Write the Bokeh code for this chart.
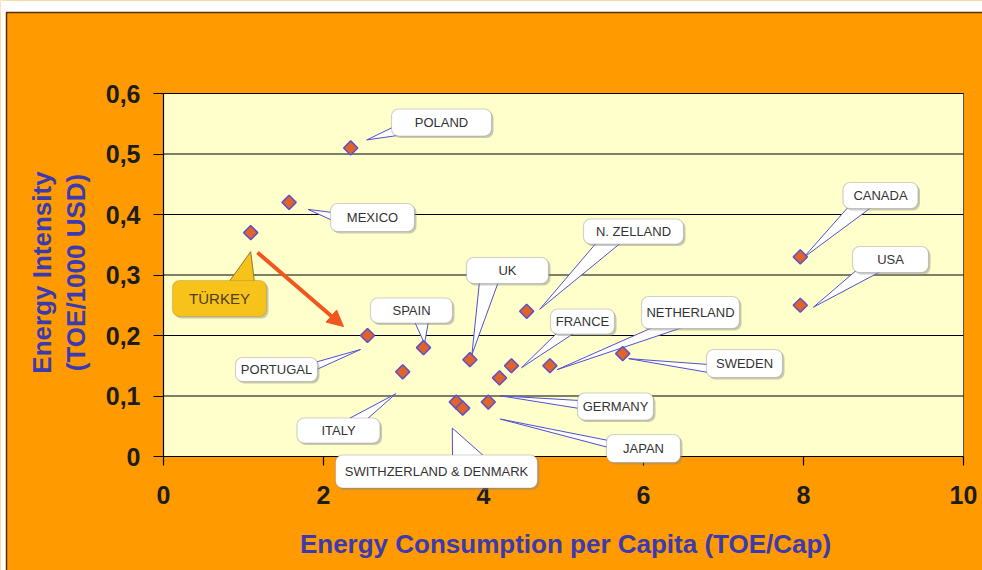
import numpy as np
from bokeh.plotting import figure
from bokeh.models import (FixedTicker, CustomJSTickFormatter, Label, BoxAnnotation,
                          Arrow, NormalHead, ColumnDataSource, Range1d)
from bokeh.embed import file_html
from bokeh.resources import INLINE

# ---------------- data ----------------
countries = ["POLAND", "MEXICO", "TÜRKEY", "PORTUGAL", "SPAIN", "ITALY", "UK",
             "N. ZELLAND", "FRANCE", "GERMANY", "NETHERLAND", "SWEDEN", "JAPAN",
             "SWITHZERLAND", "DENMARK", "CANADA", "USA"]
consumption = [2.34, 1.57, 1.09, 2.55, 3.25, 2.99, 3.83, 4.54, 4.35, 4.20, 4.83,
               5.74, 4.06, 3.66, 3.74, 7.96, 7.96]
intensity = [0.51, 0.42, 0.37, 0.20, 0.18, 0.14, 0.16, 0.24, 0.15, 0.13, 0.15,
             0.17, 0.09, 0.09, 0.08, 0.33, 0.25]
x_ticks = [0, 2, 4, 6, 8, 10]
y_ticks = [0, 0.1, 0.2, 0.3, 0.4, 0.5, 0.6]
x_title = "Energy Consumption per Capita (TOE/Cap)"
y_title = ["Energy Intensity", "(TOE/1000 USD)"]

# ---------------- layout (page pixels of the plot area) ----------------
FL, FT, FW, FH = 163, 93, 800, 363
X0, X1, Y0, Y1 = 0, 10, 0, 0.6
W, H = 982, 570           # canvas, placed at page (0, 0)


def to_dx(px):
    return X0 + (px - FL) * (X1 - X0) / FW


def to_dy(py):
    return Y0 + (FT + FH - py) * (Y1 - Y0) / FH


def to_px(x):
    return FL + (x - X0) * FW / (X1 - X0)


def to_py(y):
    return FT + FH - (y - Y0) * FH / (Y1 - Y0)


# callouts: text, anchor point index, tip offset (px), box (cx, cy, w, h), tail base points
callouts = [
    ("POLAND", 0, (16, -8), (441, 122, 100, 27), [(394, 126), (404, 134)]),
    ("MEXICO", 1, (19, 7), (372, 217, 84, 28), [(332, 212), (332, 220)]),
    ("SPAIN", 4, (1, -4), (411, 310, 82, 25), [(414, 321), (428, 321)]),
    ("PORTUGAL", 3, (-7, 14), (276, 369, 82, 24), [(314, 362), (314, 370)]),
    ("ITALY", 5, (-7, 22), (338, 430, 83, 25), [(345, 420), (365, 420)]),
    ("SWITHZERLAND & DENMARK", 13, (-4, 26), (436, 471, 202, 33), [(452, 457), (485, 457)]),
    ("UK", 6, (2, -5), (507, 270, 82, 26), [(479, 281), (498, 281)]),
    ("N. ZELLAND", 7, (13, -2), (633, 231, 100, 25), [(597, 241), (622, 241)]),
    ("FRANCE", 8, (10, 2), (582, 321, 64, 25), [(558, 331), (576, 331)]),
    ("NETHERLAND", 10, (7, 4), (690, 312, 98, 32), [(652, 327), (682, 327)]),
    ("SWEDEN", 11, (6, 5), (744, 363, 76, 28), [(708, 364), (708, 372)]),
    ("GERMANY", 9, (1, 18), (615, 406, 76, 27), [(579, 400), (579, 408)]),
    ("JAPAN", 12, (12, 17), (643, 448, 74, 28), [(608, 440), (608, 447)]),
    ("CANADA", 15, (3, 1), (880, 195, 75, 26), [(850, 204), (872, 206)]),
    ("USA", 16, (13, 2), (890, 259, 76, 26), [(858, 268), (882, 270)]),
]
turkey = ("TÜRKEY", 2, (0, 19), (219, 298, 94, 36), [(228, 282), (254, 282)])
arrow_px = ((257, 252), (343, 326))

ORANGE = "#FF9A00"
PLOT_BG = "#FFFFCC"
AXIS_TXT = "#3C3AB0"
TICK_TXT = "#1c1c1c"
FONT = "Liberation Sans"

# frame covers the whole canvas so that nothing gets clipped
p = figure(frame_width=W, frame_height=H, title=None,
           min_border_left=0, min_border_top=0, min_border_right=0, min_border_bottom=0,
           x_range=Range1d(to_dx(0), to_dx(W)),
           y_range=Range1d(to_dy(H), to_dy(0)),
           output_backend="svg", toolbar_location=None)

p.background_fill_color = ORANGE
p.border_fill_color = ORANGE
p.outline_line_color = None
p.grid.visible = False

# white strips and dark edge at the top / left of the slide
p.quad(left=[to_dx(0)], right=[to_dx(W)], top=[to_dy(0)], bottom=[to_dy(11.5)],
       fill_color="white", line_color=None)
p.quad(left=[to_dx(0)], right=[to_dx(5.5)], top=[to_dy(0)], bottom=[to_dy(H)],
       fill_color="white", line_color=None)
p.segment(x0=[to_dx(5.5)], y0=[to_dy(12)], x1=[to_dx(W)], y1=[to_dy(12)],
          line_color="#5a2a0a", line_width=1.5)
p.segment(x0=[to_dx(6)], y0=[to_dy(12)], x1=[to_dx(6)], y1=[to_dy(H)],
          line_color="#5a2a0a", line_width=1.5)

# plot area
p.quad(left=[X0], right=[X1], bottom=[Y0], top=[Y1], fill_color=PLOT_BG,
       line_color="#555555", line_width=1)
# horizontal grid lines at the y ticks
p.segment(x0=[X0] * (len(y_ticks) - 1), x1=[X1] * (len(y_ticks) - 1),
          y0=y_ticks[1:], y1=y_ticks[1:], line_color="black", line_width=1.2)

p.xaxis.fixed_location = Y0
p.yaxis.fixed_location = X0
p.xaxis.bounds = (X0, X1)
p.yaxis.bounds = (Y0, Y1)
p.xaxis.ticker = FixedTicker(ticks=x_ticks)
p.yaxis.ticker = FixedTicker(ticks=y_ticks)
p.yaxis.formatter = CustomJSTickFormatter(
    code="return tick === 0 ? '0' : tick.toFixed(1).replace('.', ',');")
p.xaxis.formatter = CustomJSTickFormatter(code="return tick.toFixed(0);")

for ax in (p.xaxis, p.yaxis):
    ax.axis_line_color = "black"
    ax.axis_line_width = 1.2
    ax.major_tick_line_color = "black"
    ax.major_tick_line_width = 1.2
    ax.minor_tick_line_color = None
    ax.major_tick_in = 0
    ax.major_label_text_font = FONT
    ax.major_label_text_font_style = "bold"
    ax.major_label_text_font_size = "25px"
    ax.major_label_text_color = TICK_TXT

p.xaxis.major_tick_out = 9
p.yaxis.major_tick_out = 10
p.yaxis.major_label_standoff = 13
p.xaxis.major_label_standoff = 20

# axis titles
p.add_layout(Label(x=to_dx(565), y=to_dy(543), text=x_title,
                   text_align="center", text_baseline="middle",
                   text_font=FONT, text_font_style="bold",
                   text_font_size="26px", text_color=AXIS_TXT))
for line, px in zip(y_title, (41, 75)):
    p.add_layout(Label(x=to_dx(px), y=to_dy(272), text=line, angle=np.pi / 2,
                       text_align="center", text_baseline="middle",
                       text_font=FONT, text_font_style="bold",
                       text_font_size="26px", text_color=AXIS_TXT))


# ---------------- callout tails ----------------
def tail(spec):
    _, idx, off, _, base = spec
    tx = to_px(consumption[idx]) + off[0]
    ty = to_py(intensity[idx]) + off[1]
    xs = [to_dx(base[0][0]), to_dx(tx), to_dx(base[1][0])]
    ys = [to_dy(base[0][1]), to_dy(ty), to_dy(base[1][1])]
    return xs, ys


txs, tys = zip(*[tail(c) for c in callouts])
p.patches(xs=list(txs), ys=list(tys), fill_color="white", line_color="#5050D0",
          line_width=1)
kx, ky = tail(turkey)
p.patch(x=kx, y=ky, fill_color="#F7C31A", line_color="#8C7A30", line_width=1)

# ---------------- markers ----------------
src = ColumnDataSource(dict(x=consumption, y=intensity, name=countries))
p.scatter(x="x", y="y", source=src, marker="square", angle=np.pi / 4, size=10,
          fill_color="#E0642A", line_color="#5E50C8", line_width=1.5)

# ---------------- arrow ----------------
AR = "#F0561E"
(ax0, ay0), (ax1, ay1) = arrow_px
p.add_layout(Arrow(end=NormalHead(size=16, fill_color=AR, line_color=AR),
                   x_start=to_dx(ax0), y_start=to_dy(ay0),
                   x_end=to_dx(ax1), y_end=to_dy(ay1),
                   line_color=AR, line_width=4))


# ---------------- callout boxes + text ----------------
def box(spec, fill, line, text_color, size):
    text, _, _, (cx, cy, w, h), _ = spec
    p.add_layout(BoxAnnotation(left=to_dx(cx - w / 2 + 2), right=to_dx(cx + w / 2 + 2),
                               top=to_dy(cy - h / 2 + 2), bottom=to_dy(cy + h / 2 + 2),
                               fill_color="#8a8a8a", fill_alpha=0.45, line_color=None,
                               border_radius=7))
    p.add_layout(BoxAnnotation(left=to_dx(cx - w / 2), right=to_dx(cx + w / 2),
                               top=to_dy(cy - h / 2), bottom=to_dy(cy + h / 2),
                               fill_color=fill, fill_alpha=1, line_color=line,
                               line_width=1.2, border_radius=7))
    p.add_layout(Label(x=to_dx(cx), y=to_dy(cy), text=text, text_align="center",
                       text_baseline="middle", text_font=FONT, text_font_size=size,
                       text_color=text_color))


for c in callouts:
    box(c, "white", "#6a6a6a", "#333333", "13px")
box(turkey, "#F7C31A", "#8C7A30", "#4d4020", "15px")

open("out.html", "w").write(file_html(p, INLINE))
